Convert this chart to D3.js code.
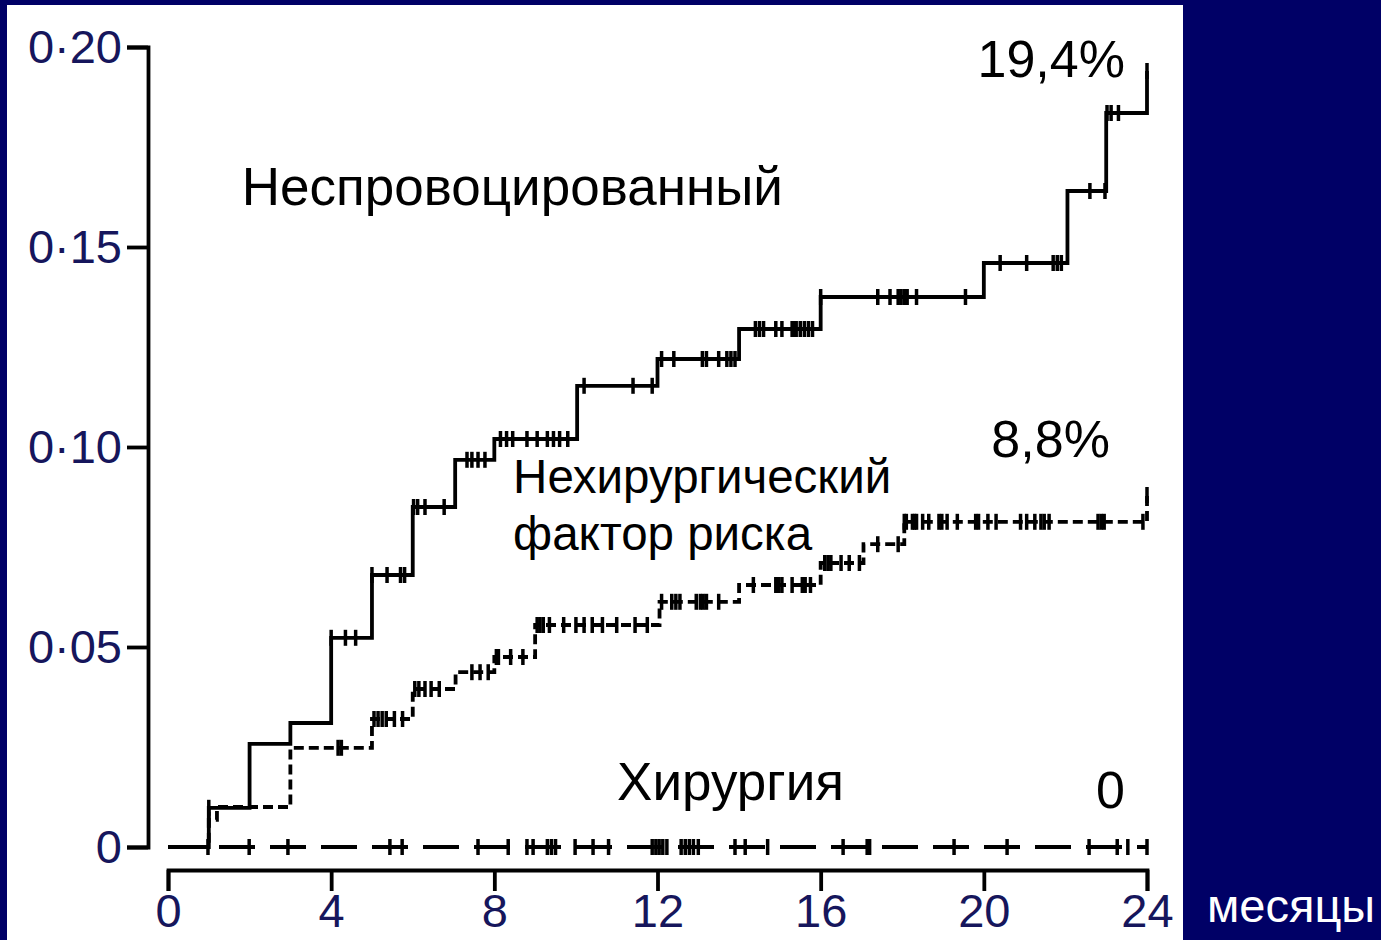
<!DOCTYPE html>
<html>
<head>
<meta charset="utf-8">
<script src="https://cdn.jsdelivr.net/npm/d3@7"></script>
<style>
  html, body { margin: 0; padding: 0; background: #000066; }
  svg { display: block; }
  text { font-family: "Liberation Sans", Arial, sans-serif; }
</style>
</head>
<body>
<svg id="chart"></svg>
<script>
// step curve of cumulative risk: time of each step (months) and level after it
const unprovokedTimes = [0, 1, 2, 3, 4, 5, 6, 7.04, 8, 10.03, 12, 14, 16, 20, 22.05, 23, 24];
const unprovokedRisk  = [0, 0.0098, 0.0258, 0.031, 0.0523, 0.068, 0.085, 0.0968, 0.102, 0.1153, 0.122, 0.1295, 0.1375, 0.146, 0.164, 0.1835, 0.194];
const unprovokedCensored = [1, 4, 4.35, 4.6, 5, 5.37, 5.7, 5.8, 6.02, 6.12, 6.3, 6.77,
  7.33, 7.45, 7.6, 7.77, 8.15, 8.3, 8.45, 8.8, 9.05, 9.3, 9.45, 9.6, 9.8,
  10.2, 11.4, 11.87, 12.1, 12.4, 13.1, 13.2, 13.5, 13.7, 13.8, 13.9,
  14.4, 14.5, 14.6, 14.9, 15.05, 15.3, 15.35, 15.4, 15.5, 15.6, 15.7, 15.8,
  16, 17.4, 17.7, 17.9, 17.97, 18.05, 18.12, 18.35, 19.55,
  20.4, 21.05, 21.7, 21.8, 21.9, 22.6, 22.97, 23.02, 23.12, 23.3, 24];

const nonsurgicalTimes = [0, 1, 1.2, 3, 5, 6, 7.05, 8, 9, 12.05, 14, 16, 17.05, 18.05, 24];
const nonsurgicalRisk  = [0, 0.0068, 0.01, 0.0248, 0.032, 0.0395, 0.0437, 0.0475, 0.0555, 0.0613, 0.0655, 0.071, 0.0757, 0.0813, 0.088];
const nonsurgicalCensored = [1, 4.17, 4.25, 5.05, 5.15, 5.25, 5.35, 5.55, 5.75,
  6.05, 6.15, 6.3, 6.45, 6.65, 7.45, 7.65, 7.85, 8.05, 8.1, 8.4, 8.7,
  9.05, 9.12, 9.2, 9.35, 9.7, 10, 10.2, 10.4, 10.65, 11, 11.45, 11.75,
  12.1, 12.35, 12.45, 12.55, 12.95, 13.05, 13.12, 13.2, 13.5,
  14.35, 14.9, 14.97, 15.05, 15.3, 15.55, 15.62, 15.75, 16.1, 16.18, 16.25, 16.5, 16.7, 16.95,
  17.4, 17.9, 18.1, 18.05, 18.25, 18.3, 18.35, 18.5, 18.65, 18.9, 18.97, 19.1, 19.35, 19.8, 19.87,
  20.1, 20.3, 20.9, 21.05, 21.25, 21.4, 21.48, 21.6, 22.8, 22.88, 22.95, 23.9, 24];

const surgeryTimes = [0, 24];
const surgeryRisk  = [0, 0];
const surgeryCensored = [0.98, 1.99, 2.94, 5.44, 5.74, 7.6, 8.34, 8.8, 8.95, 9.3, 9.4, 9.5,
  9.98, 10.42, 10.8, 11.87, 11.96, 12.04, 12.13, 12.23, 12.58, 12.68, 12.78, 12.88, 13,
  13.9, 14.15, 14.7, 16.55, 17.14, 17.2, 19.27, 20.57, 22.58, 23.27, 23.53, 24];

const xTicks = [0, 4, 8, 12, 16, 20, 24];
const yTicks = [0, 0.05, 0.1, 0.15, 0.2];

const width = 1381;
const height = 940;

const svg = d3.select("#chart")
  .attr("width", width)
  .attr("height", height);

svg.append("rect")
  .attr("width", width)
  .attr("height", height)
  .attr("fill", "#000066");

svg.append("rect")
  .attr("x", 7)
  .attr("y", 5)
  .attr("width", 1176)
  .attr("height", 935)
  .attr("fill", "#ffffff");

const x = d3.scaleLinear().domain([0, 24]).range([168, 1147]);
const y = d3.scaleLinear().domain([0, 0.2]).range([847, 47]);

// axes
const yAxis = svg.append("g")
  .attr("transform", "translate(148,0)")
  .call(d3.axisLeft(y)
    .tickValues(yTicks)
    .tickSize(21)
    .tickPadding(5)
    .tickFormat(d => d === 0 ? "0" : d3.format(".2f")(d).replace(".", "\u00b7")));

const xAxis = svg.append("g")
  .attr("transform", "translate(0,870)")
  .call(d3.axisBottom(x)
    .tickValues(xTicks)
    .tickSize(21)
    .tickPadding(3));

[yAxis, xAxis].forEach(g => {
  g.select(".domain").attr("stroke", "#000").attr("stroke-width", 3.8).attr("stroke-linejoin", "miter");
  g.selectAll(".tick line").attr("stroke", "#000").attr("stroke-width", 3.8);
  g.selectAll(".tick text")
    .attr("fill", "#16165c")
    .style("font-size", "47px")
    .style("font-family", "'Liberation Sans', Arial, sans-serif");
});
yAxis.selectAll(".tick text").attr("dy", "0.33em");

// curves
const line = d3.line()
  .x(d => x(d[0]))
  .y(d => y(d[1]))
  .curve(d3.curveStepAfter);

function drawCurve(times, risk, censored, dash) {
  const pts = times.map((t, i) => [t, risk[i]]);
  svg.append("path")
    .datum(pts)
    .attr("d", line)
    .attr("fill", "none")
    .attr("stroke", "#000")
    .attr("stroke-width", 3.8)
    .attr("stroke-dasharray", dash);

  const levelAt = t => risk[Math.max(0, d3.bisectRight(times, t) - 1)];
  svg.append("g")
    .selectAll("line")
    .data(censored)
    .join("line")
      .attr("x1", d => x(d))
      .attr("x2", d => x(d))
      .attr("y1", d => y(levelAt(d)) - 8)
      .attr("y2", d => y(levelAt(d)) + 8)
      .attr("stroke", "#000")
      .attr("stroke-width", 3.5);
}

drawCurve(surgeryTimes, surgeryRisk, surgeryCensored, "36,15");
drawCurve(nonsurgicalTimes, nonsurgicalRisk, nonsurgicalCensored, "10,5");
drawCurve(unprovokedTimes, unprovokedRisk, unprovokedCensored, null);

// annotations
const note = (tx, ty, str, size, anchor) => svg.append("text")
  .attr("x", tx)
  .attr("y", ty)
  .attr("text-anchor", anchor || "start")
  .attr("fill", "#000")
  .style("font-size", size + "px")
  .text(str);

note(x(1.81), y(0.1605), "Неспровоцированный", 53);
note(x(23.46), y(0.1925), "19,4%", 52, "end");
note(x(23.09), y(0.0975), "8,8%", 52, "end");
note(x(8.46), y(0.0885), "Нехирургический", 47.5);
note(x(8.46), y(0.07425), "фактор риска", 47.5);
note(x(11.01), y(0.01175), "Хирургия", 53);
note(x(23.46), y(0.00975), "0", 52, "end");

svg.append("text")
  .attr("x", 1207)
  .attr("y", 922)
  .attr("fill", "#ffffff")
  .style("font-size", "47px")
  .text("месяцы");
</script>
</body>
</html>
